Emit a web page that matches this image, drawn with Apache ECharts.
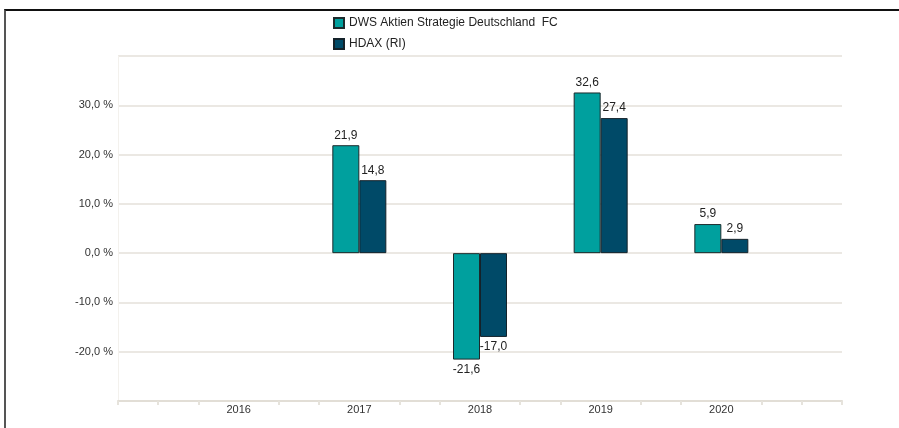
<!DOCTYPE html>
<html>
<head>
<meta charset="utf-8">
<script src="https://cdn.jsdelivr.net/npm/echarts@6/dist/echarts.min.js"></script>
<style>
	html, body { margin:0; padding:0; background:#fff; }
	#chart { position:absolute; left:0; top:0; width:899px; height:428px; }
	#frame { position:absolute; left:4px; top:9px; right:0; bottom:0; border-top:2px solid #111; border-left:2px solid #555; pointer-events:none; }
</style>
</head>
<body>
<div id="chart"></div>
<div id="frame"></div>
<script>
// 数据
var years = ['2016', '2017', '2018', '2019', '2020'];
var fundName = 'DWS Aktien Strategie Deutschland  FC';
var indexName = 'HDAX (RI)';
var fundValues = [null, 21.9, -21.6, 32.6, 5.9];
var indexValues = [null, 14.8, -17.0, 27.4, 2.9];
var yTicks = [-30, -20, -10, 0, 10, 20, 30, 40];

// 每年之间留两个空位, 刻度画在空位上
var padCats = function(){
	var c = ['', '', ''];
	years.forEach(function(y){ c.push(y, '', ''); });
	c.push('');
	return c;
};
var padData = function(vals){
	var d = [null, null, null];
	vals.forEach(function(v){
		// 负值标签放在柱子下方
		if (v !== null && v < 0) {
			d.push({ value: v, label: { position: 'bottom' } }, null, null);
		} else {
			d.push(v, null, null);
		}
	});
	d.push(null);
	return d;
};
var fmt = function(v){ return v.toFixed(1).replace('.', ','); };

var labelStyle = {
	show: true,
	position: 'top',
	fontFamily: 'Liberation Sans, Arial',
	fontSize: 12,
	color: '#222',
	distance: 4,
	formatter: function(p){ return fmt(p.value); }
};

var myChart = echarts.init(document.getElementById('chart'));
var option = {
	animation: false,
	textStyle: { fontFamily: 'Liberation Sans, Arial' },
	legend: {
		orient: 'vertical',
		left: 328,
		top: 12,
		itemWidth: 10,
		itemHeight: 10,
		itemGap: 9,
		icon: 'rect',
		textStyle: { fontSize: 12, color: '#222' },
		data: [fundName, indexName]
	},
	grid: { left: 118, right: 57, top: 56, bottom: 27 },
	xAxis: {
		type: 'category',
		boundaryGap: false,
		data: padCats(),
		axisLine: { onZero: false, lineStyle: { color: '#e2ded6', width: 2 } },
		axisTick: {
			length: 4,
			lineStyle: { color: '#e6e3dc', width: 2 },
			interval: function(i, v){ return v === ''; }
		},
		axisLabel: { interval: 0, margin: 3, fontSize: 11, color: '#333' },
		splitLine: { show: false }
	},
	yAxis: {
		type: 'value',
		min: yTicks[0],
		max: yTicks[yTicks.length - 1],
		interval: 10,
		axisLine: { show: true, lineStyle: { color: '#f3f1ed', width: 1 } },
		axisTick: { show: false },
		axisLabel: {
			fontSize: 11,
			color: '#333',
			margin: 5,
			formatter: function(v){
				if (v === yTicks[0] || v === yTicks[yTicks.length - 1]) return '';
				return fmt(v) + ' %';
			}
		},
		splitLine: { lineStyle: { color: '#e4e1da', width: 1.5 } }
	},
	series: [
		{
			name: fundName,
			type: 'bar',
			barWidth: 27,
			barGap: '0%',
			data: padData(fundValues),
			itemStyle: { color: '#00a09e', borderColor: '#1c2a2c', borderWidth: 1 },
			label: labelStyle
		},
		{
			name: indexName,
			type: 'bar',
			barWidth: 27,
			barGap: '0%',
			data: padData(indexValues),
			itemStyle: { color: '#004a68', borderColor: '#14222a', borderWidth: 1 },
			label: labelStyle
		}
	]
};

myChart.setOption(option);
</script>
</body>
</html>
